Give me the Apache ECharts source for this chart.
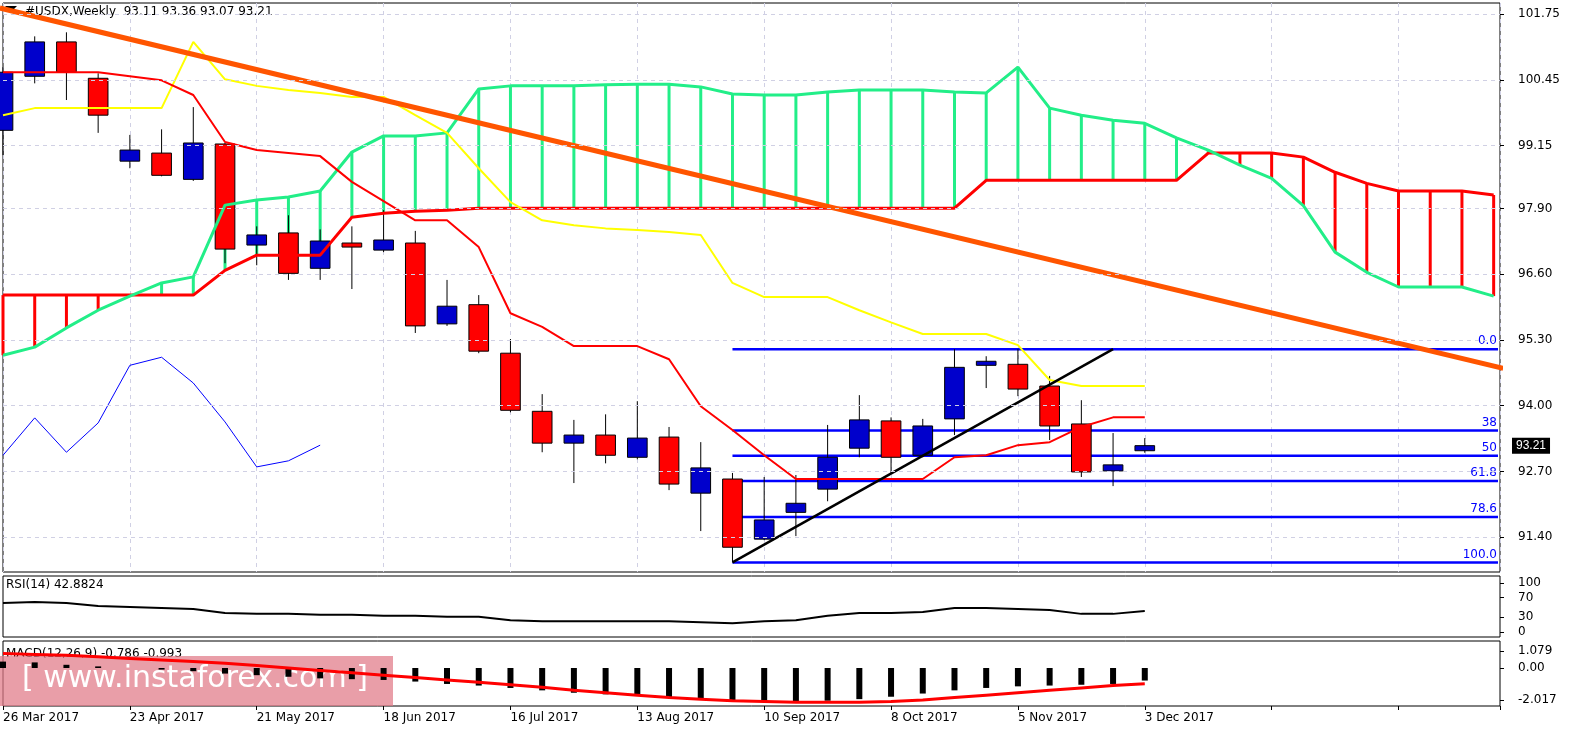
<!DOCTYPE html><html><head><meta charset="utf-8">
<script src="https://cdn.jsdelivr.net/npm/echarts@6/dist/echarts.min.js"></script>
<style>html,body{margin:0;padding:0;background:#fff;overflow:hidden}#c{width:1583px;height:744px}</style></head><body><div id="c"></div>
<script>
const dates=['26 Mar 2017','2 Apr','9 Apr','16 Apr','23 Apr 2017','30 Apr','7 May','14 May','21 May 2017','28 May','4 Jun','11 Jun','18 Jun 2017','25 Jun','2 Jul','9 Jul','16 Jul 2017','23 Jul','30 Jul','6 Aug','13 Aug 2017','20 Aug','27 Aug','3 Sep','10 Sep 2017','17 Sep','24 Sep','1 Oct','8 Oct 2017','15 Oct','22 Oct','29 Oct','5 Nov 2017','12 Nov','19 Nov','26 Nov','3 Dec 2017'];
// [open, high, low, close]
const ohlc=[[99.45,100.70,98.96,100.60],[100.52,101.31,100.38,101.20],[101.20,101.39,100.05,100.60],[100.48,100.58,99.40,99.75],[98.84,99.36,98.70,99.06],[99.00,99.47,98.54,98.56],[98.48,99.91,98.45,99.20],[99.18,99.20,96.82,97.10],[97.18,97.55,96.78,97.38],[97.42,97.77,96.49,96.62],[96.72,97.49,96.49,97.26],[97.22,97.55,96.31,97.14],[97.08,97.87,97.04,97.28],[97.22,97.46,95.44,95.58],[95.62,96.49,95.58,95.97],[96.00,96.19,95.04,95.08],[95.04,95.32,93.87,93.91],[93.89,94.23,93.08,93.26],[93.26,93.72,92.47,93.42],[93.42,93.83,92.86,93.02],[92.98,94.09,92.94,93.36],[93.38,93.58,92.33,92.45],[92.27,93.28,91.52,92.77],[92.55,92.67,90.90,91.20],[91.36,92.59,91.34,91.74],[91.89,92.63,91.42,92.07],[92.35,93.62,92.11,92.98],[93.16,94.21,92.98,93.72],[93.70,93.77,92.67,92.98],[93.02,93.74,92.98,93.60],[93.74,95.12,93.42,94.76],[94.80,94.98,94.35,94.88],[94.82,95.12,94.19,94.33],[94.39,94.59,93.32,93.60],[93.64,94.11,92.59,92.69],[92.71,93.46,92.41,92.83],[93.11,93.36,93.07,93.21]];
const tenkan=[100.60,100.60,100.60,100.60,100.52,100.44,100.15,99.22,99.06,99.00,98.94,98.43,98.05,97.67,97.67,97.14,95.83,95.56,95.18,95.18,95.18,94.92,93.99,93.52,93.02,92.55,92.55,92.55,92.55,92.55,92.98,93.02,93.22,93.28,93.58,93.77,93.77];
const kijun=[99.75,99.89,99.89,99.89,99.89,99.89,101.20,100.46,100.33,100.25,100.19,100.11,100.11,99.75,99.40,98.70,98.03,97.67,97.57,97.51,97.48,97.44,97.38,96.43,96.15,96.15,96.15,95.89,95.65,95.42,95.42,95.42,95.20,94.51,94.39,94.39,94.39];
const spanA=[95.00,95.16,95.54,95.89,96.17,96.43,96.55,97.97,98.07,98.13,98.25,99.02,99.34,99.34,99.40,100.27,100.33,100.33,100.33,100.35,100.36,100.36,100.31,100.17,100.15,100.15,100.21,100.25,100.25,100.25,100.21,100.19,100.70,99.89,99.75,99.65,99.59,99.30,99.06,98.76,98.50,97.96,97.04,96.64,96.35,96.35,96.35,96.17];
const spanB=[96.19,96.19,96.19,96.19,96.19,96.19,96.19,96.68,96.98,96.98,96.98,97.73,97.81,97.85,97.87,97.91,97.91,97.91,97.91,97.91,97.91,97.91,97.91,97.91,97.91,97.91,97.91,97.91,97.91,97.91,97.91,98.46,98.46,98.46,98.46,98.46,98.46,98.46,99.00,99.00,99.00,98.92,98.62,98.40,98.25,98.25,98.25,98.17];
const chikou=[93.02,93.76,93.08,93.66,94.80,94.96,94.45,93.68,92.79,92.91,93.22];
const rsi=[59,61,59,53,51,49,47,39,37,37,35,35,33,33,31,31,24,22,22,22,22,22,20,18,22,24,33,39,39,41,49,49,47,45,37,37,42.88];
const macd=[0.40,0.35,0.20,0.10,0.00,-0.10,-0.20,-0.35,-0.45,-0.55,-0.65,-0.70,-0.75,-0.85,-1.00,-1.10,-1.25,-1.40,-1.55,-1.65,-1.75,-1.85,-1.95,-2.05,-2.10,-2.10,-2.05,-1.95,-1.80,-1.60,-1.40,-1.25,-1.15,-1.10,-1.05,-1.00,-0.786];
const signal=[0.90,0.85,0.80,0.70,0.60,0.50,0.40,0.30,0.15,0.00,-0.15,-0.30,-0.45,-0.60,-0.75,-0.90,-1.05,-1.20,-1.40,-1.55,-1.70,-1.85,-1.95,-2.05,-2.10,-2.15,-2.15,-2.15,-2.10,-2.00,-1.85,-1.70,-1.55,-1.40,-1.25,-1.10,-0.993];
const priceTicks=[91.40,92.70,94.00,95.30,96.60,97.90,99.15,100.45,101.75];
const rsiTicks=[0,30,70,100];
const macdTicks=[-2.017,0,1.079];
const fibLevels=[95.12,93.51,93.01,92.51,91.80,90.90];
const fibLabels=['0.0','38','50','61.8','78.6','100.0'];
const trend=[[-0.1,101.87],[47.3,94.74]];
const upTrend=[[23,90.90],[35,95.12]];
const fibStart=23, last=ohlc[ohlc.length-1][3];

const xmin=0,xmax=47.2;
const ch=echarts.init(document.getElementById('c'));
const idx=a=>a.map((v,i)=>[i,v]);
const ax=(gi,show)=>({type:'value',gridIndex:gi,min:xmin,max:xmax,interval:4,position:'bottom',
  axisLine:{show:false,onZero:false},axisTick:{show:show,length:4,lineStyle:{color:'#000'}},
  splitLine:{show:gi===0,lineStyle:{color:'#d0d0e4',type:[4,4]}},
  axisLabel:{show:show,align:'left',margin:6,color:'#000',fontSize:12,fontFamily:'Tahoma, DejaVu Sans',
    formatter:v=>{const i=Math.round(v);return (i%4===0&&i<dates.length)?dates[i]:'';}}});
const ylab={color:'#000',fontSize:12,fontFamily:'DejaVu Sans',margin:18};
const yax=(gi,min,max,ticks,fmt)=>({type:'value',gridIndex:gi,position:'right',min:min,max:max,
   axisLine:{show:false,onZero:false},axisTick:{show:true,customValues:ticks,length:4,lineStyle:{color:'#000'}},
   splitLine:{show:false},axisLabel:Object.assign({customValues:ticks,formatter:fmt},ylab)});
const opt={animation:false,
 grid:[{left:3,right:83,top:3,height:569,show:true,borderColor:'#000',borderWidth:1},
       {left:3,right:83,top:576,height:61,show:true,borderColor:'#000',borderWidth:1},
       {left:3,right:83,top:641,height:65,show:true,borderColor:'#000',borderWidth:1}],
 xAxis:[ax(0,false),ax(1,false),ax(2,true)],
 yAxis:[yax(0,90.71,101.97,priceTicks,v=>v.toFixed(2)),yax(1,-10.2,114.3,rsiTicks,v=>String(v)),
   yax(2,-2.38,1.69,macdTicks,v=>v===0?'0.00':String(v))],
 series:[
  {type:'line',data:priceTicks.map(v=>[xmin,v]),symbol:'none',lineStyle:{width:0},silent:true,
   markLine:{silent:true,symbol:'none',label:{show:false},lineStyle:{color:'#d0d0e4',type:[4,4],width:1},data:priceTicks.map(v=>({yAxis:v}))}},
  {type:'custom',renderItem:(p,api)=>{const i=api.value(0),a=api.value(1),b=api.value(2);
    const s=api.coord([i,a]),e=api.coord([i,b]);
    return {type:'line',shape:{x1:s[0],y1:s[1],x2:e[0],y2:e[1]},style:{stroke:a>=b?'#22ee88':'#ff0000',lineWidth:3}};},
   data:spanA.map((v,i)=>[i,v,spanB[i]]),silent:true},
  {type:'line',data:idx(spanB),symbol:'none',lineStyle:{color:'#ff0000',width:3}},
  {type:'line',data:idx(spanA),symbol:'none',lineStyle:{color:'#22ee88',width:3}},
  {type:'line',data:idx(kijun),symbol:'none',lineStyle:{color:'#ffff00',width:2}},
  {type:'line',data:idx(tenkan),symbol:'none',lineStyle:{color:'#ff0000',width:2}},
  {type:'line',data:idx(chikou),symbol:'none',lineStyle:{color:'#0000ff',width:1}},
  {type:'custom',silent:true,renderItem:(p,api)=>{const lv=api.value(0),lab=fibLabels[p.dataIndex];
    const s=api.coord([fibStart,lv]),e=api.coord([xmax,lv]);
    return {type:'group',children:[{type:'line',shape:{x1:s[0],y1:s[1],x2:e[0]-2,y2:e[1]},style:{stroke:'#0000ff',lineWidth:2.5}},
      {type:'text',style:{text:lab,x:e[0]-3,y:e[1]-2,align:'right',verticalAlign:'bottom',fill:'#0000ff',font:'12px DejaVu Sans'}}]};},
   data:fibLevels.map(v=>[v])},
  {type:'line',data:upTrend,symbol:'none',lineStyle:{color:'#000',width:2.5}},
  {type:'custom',renderItem:(p,api)=>{const i=api.value(0),o=api.value(1),h=api.value(2),l=api.value(3),c=api.value(4);
    const w=api.size([1,0])[0]*0.62;const x=api.coord([i,0])[0];
    const yo=api.coord([i,o])[1],yc=api.coord([i,c])[1],yh=api.coord([i,h])[1],yl=api.coord([i,l])[1];
    const top=Math.min(yo,yc),ht=Math.max(Math.abs(yo-yc),2);
    return {type:'group',children:[{type:'line',shape:{x1:x,y1:yh,x2:x,y2:yl},style:{stroke:'#000',lineWidth:1}},
      {type:'rect',shape:{x:x-w/2,y:top,width:w,height:ht},style:{fill:c>=o?'#0000cc':'#ff0000',stroke:'#000',lineWidth:1}}]};},
   data:ohlc.map((d,i)=>[i,d[0],d[1],d[2],d[3]]),
   markLine:{silent:true,symbol:'none',lineStyle:{width:1,color:'rgba(0,0,0,0)'},
     label:{show:true,position:'end',formatter:last.toFixed(2),backgroundColor:'#000',color:'#fff',padding:[2,4],fontSize:12,distance:12},
     data:[{yAxis:last}]}},
  {type:'line',data:trend,symbol:'none',lineStyle:{color:'#ff5500',width:5}},
  {type:'line',xAxisIndex:1,yAxisIndex:1,data:idx(rsi),symbol:'none',lineStyle:{color:'#000',width:2}},
  {type:'bar',xAxisIndex:2,yAxisIndex:2,data:idx(macd),barWidth:6,itemStyle:{color:'#000'}},
  {type:'line',xAxisIndex:2,yAxisIndex:2,data:idx(signal),symbol:'none',lineStyle:{color:'#ff0000',width:3}}
 ],
 graphic:[
  {type:'polygon',shape:{points:[[5,6],[17,6],[11,12]]},style:{fill:'#000'}},
  {type:'text',left:25,top:6,style:{text:'#USDX,Weekly  93.11 93.36 93.07 93.21',fill:'#000',font:'12px Tahoma, DejaVu Sans'}},
  {type:'text',left:6,top:579,style:{text:'RSI(14) 42.8824',fill:'#000',font:'12px DejaVu Sans'}},
  {type:'text',left:6,top:648,style:{text:'MACD(12,26,9) -0.786 -0.993',fill:'#000',font:'12px DejaVu Sans'}},
  {type:'rect',shape:{x:0,y:656,width:393,height:50},style:{fill:'rgba(225,120,135,0.72)'}},
  {type:'text',left:22,top:664,style:{text:'[ www.instaforex.com ]',fill:'#fff',font:'30px DejaVu Sans'}}
 ]};
ch.setOption(opt);
</script></body></html>
